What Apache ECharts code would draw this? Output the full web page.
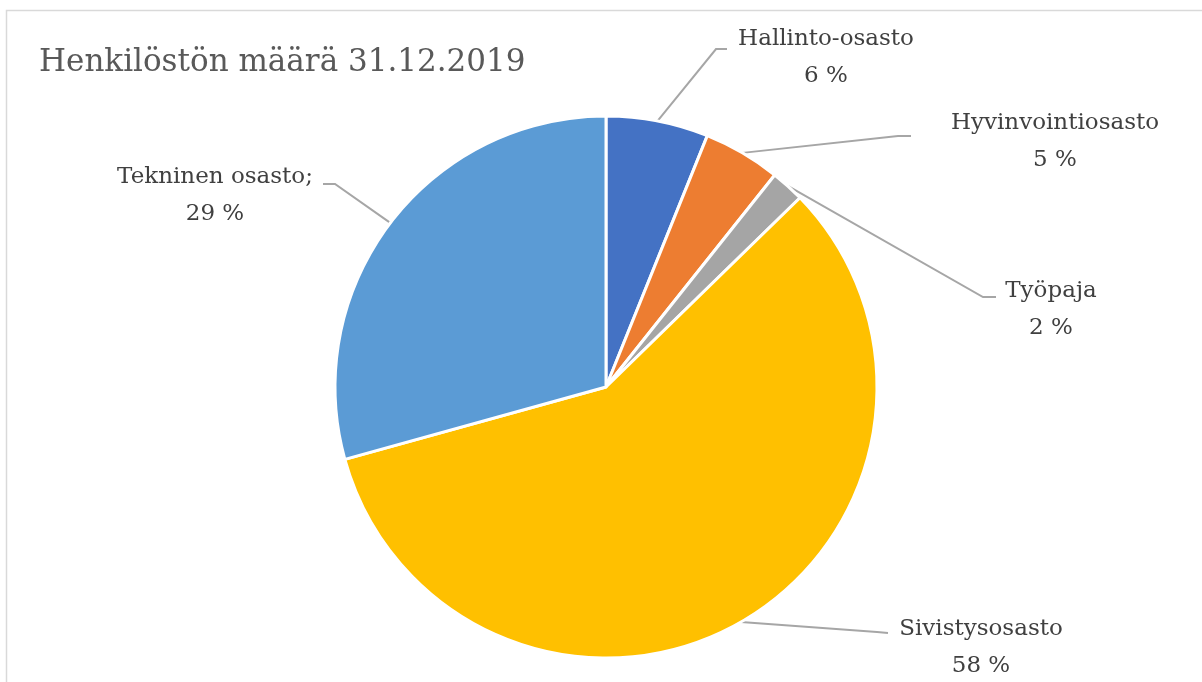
<!DOCTYPE html>
<html>
<head>
<meta charset="utf-8">
<script src="https://cdn.jsdelivr.net/npm/echarts@6/dist/echarts.min.js"></script>
<style>
html,body{margin:0;padding:0;background:#fff;}
#chart{width:1202px;height:682px;}
</style>
</head>
<body>
<div id="chart"></div>
<script>
// ---- data ----
var titleText = 'Henkilöstön määrä 31.12.2019';
var categories = ['Hallinto-osasto', 'Hyvinvointiosasto', 'Työpaja', 'Sivistysosasto', 'Tekninen osasto'];
var values = [6.1, 4.6, 2.0, 58.0, 29.3];
var nameSuffix = ['', '', '', '', ';'];
var colors = ['#4472C4', '#ED7D31', '#A5A5A5', '#FFC000', '#5B9BD5'];

// ---- label layout (positions only) ----
var labelCenters = [[826, 58], [1055, 142], [1051, 310], [981, 648], [215, 196]];
var lineElbows = [[[716, 49], [727, 49]], [[898, 136], [911, 136]], [[983, 297], [996, 297]], [[877, 632], [888, 633]], [[335, 184], [323, 184]]];

var FONT = '"DejaVu Serif", serif';
var chart = echarts.init(document.getElementById('chart'), null, {renderer: 'canvas'});

var seriesData = categories.map(function (c, i) {
  return {name: c, value: values[i], itemStyle: {color: colors[i]}};
});

chart.setOption({
  animation: false,
  backgroundColor: '#ffffff',
  title: {
    text: titleText,
    left: 34,
    top: 42,
    textStyle: {fontFamily: FONT, fontSize: 31, fontWeight: 'normal', color: '#595959'}
  },
  graphic: [{
    type: 'rect',
    shape: {x: 6.5, y: 10.5, width: 1400, height: 1000},
    style: {fill: 'none', stroke: '#d9d9d9', lineWidth: 1.5},
    silent: true
  }],
  series: [{
    type: 'pie',
    center: [606, 387],
    radius: 271,
    startAngle: 90,
    clockwise: true,
    percentPrecision: 0,
    data: seriesData,
    itemStyle: {borderColor: '#ffffff', borderWidth: 3},
    label: {
      show: true,
      position: 'outside',
      fontFamily: FONT,
      fontSize: 23,
      color: '#404040',
      lineHeight: 37,
      align: 'center',
      formatter: function (p) {
        return p.name + nameSuffix[p.dataIndex] + '\n' + p.percent + ' %';
      }
    },
    labelLine: {
      show: true,
      length: 10,
      length2: 10,
      lineStyle: {color: '#a6a6a6', width: 2}
    },
    labelLayout: function (params) {
      var i = params.dataIndex;
      var start = params.labelLinePoints ? params.labelLinePoints[0] : null;
      var pts = start ? [start, lineElbows[i][0], lineElbows[i][1]] : undefined;
      return {
        x: labelCenters[i][0],
        y: labelCenters[i][1],
        align: 'center',
        verticalAlign: 'middle',
        labelLinePoints: pts
      };
    }
  }]
});
</script>
</body>
</html>
